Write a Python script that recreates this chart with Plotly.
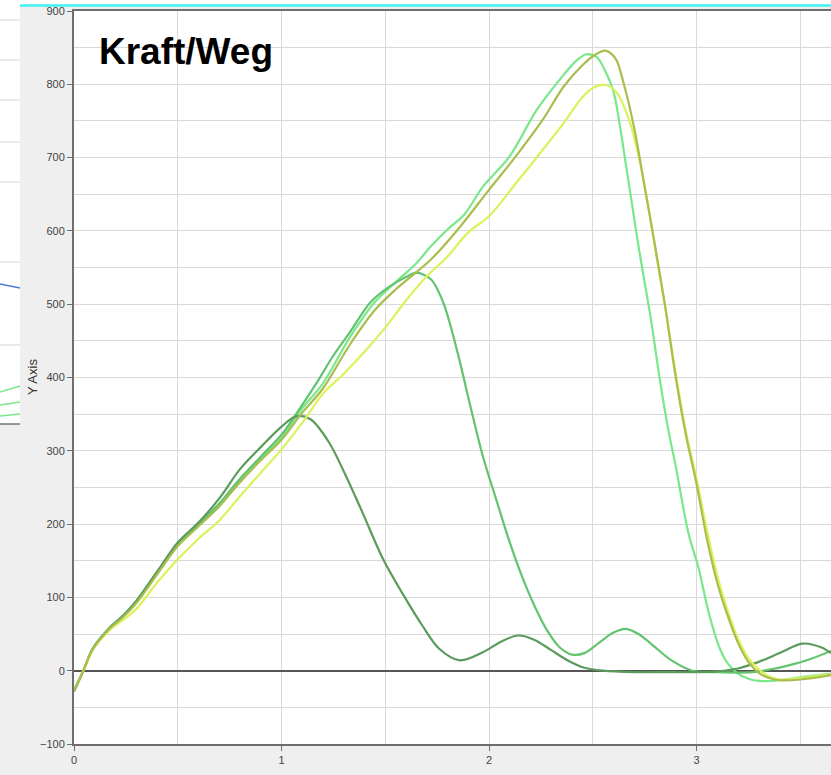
import plotly.graph_objects as go

# Kraft/Weg curves (Weg on x, Kraft on y), five specimens
weg_1 = [0, 0.045, 0.09, 0.17, 0.24, 0.30, 0.40, 0.50, 0.60, 0.70, 0.80, 0.90, 1.00, 1.07, 1.14, 1.23,
         1.31, 1.39, 1.49, 1.59, 1.68, 1.76, 1.86, 1.97, 2.06, 2.14, 2.22, 2.30, 2.38, 2.46, 2.55, 2.70,
         2.85, 3.00, 3.10, 3.20, 3.30, 3.40, 3.51, 3.60, 3.648]
kraft_1 = [-28, 0, 30, 58, 76, 95, 135, 175, 202, 235, 275, 305, 333, 347, 343, 311,
           266, 216, 152, 102, 61, 30, 14, 25, 40, 48, 42, 28, 14, 4, 0, -2,
           -2, -2, -1, 3, 12, 24, 37, 32, 24]

weg_2 = [0, 0.045, 0.09, 0.17, 0.24, 0.30, 0.40, 0.50, 0.60, 0.70, 0.80, 0.90, 1.00, 1.07, 1.17, 1.25,
         1.33, 1.43, 1.52, 1.60, 1.65, 1.72, 1.78, 1.845, 1.91, 1.97, 2.04, 2.10, 2.16, 2.22, 2.28, 2.34,
         2.40, 2.46, 2.53, 2.60, 2.66, 2.72, 2.78, 2.88, 2.98, 3.10, 3.27, 3.36, 3.44, 3.55, 3.648]
kraft_2 = [-28, 0, 30, 58, 76, 95, 134, 174, 200, 228, 262, 292, 322, 350, 393, 430,
           462, 503, 524, 537, 543, 534, 502, 438, 361, 293, 229, 175, 128, 88, 55, 32,
           22, 24, 38, 52, 57, 50, 37, 14, 0, -2, -2, 2, 7, 16, 27]

weg_3 = [0, 0.045, 0.09, 0.17, 0.24, 0.30, 0.40, 0.50, 0.60, 0.70, 0.80, 0.90, 1.00, 1.10, 1.20, 1.33,
         1.45, 1.55, 1.65, 1.72, 1.80, 1.88, 1.97, 2.10, 2.23, 2.34, 2.42, 2.47, 2.52, 2.56, 2.60, 2.63,
         2.66, 2.69, 2.72, 2.75, 2.78, 2.83, 2.87, 2.90, 2.96, 3.01, 3.06, 3.11, 3.15, 3.20, 3.25, 3.30,
         3.40, 3.50, 3.648]
kraft_3 = [-27, 0, 30, 58, 75, 94, 133, 172, 199, 226, 260, 290, 318, 358, 392, 455,
           503, 530, 556, 579, 602, 622, 660, 702, 765, 806, 832, 841, 837, 818, 790, 745,
           690, 635, 580, 530, 480, 385, 320, 279, 189, 140, 78, 32, 10, -4, -11, -14,
           -13, -9, -4]

weg_4 = [0, 0.045, 0.09, 0.17, 0.24, 0.30, 0.40, 0.50, 0.60, 0.70, 0.80, 0.90, 1.00, 1.10, 1.20, 1.33,
         1.45, 1.55, 1.72, 1.85, 2.00, 2.13, 2.26, 2.36, 2.45, 2.51, 2.56, 2.61, 2.65, 2.70, 2.75, 2.80,
         2.85, 2.90, 2.95, 3.00, 3.05, 3.10, 3.15, 3.20, 3.25, 3.30, 3.35, 3.40, 3.50, 3.648]
kraft_4 = [-27, 0, 29, 57, 74, 92, 131, 170, 197, 224, 257, 287, 315, 352, 385, 445,
           492, 520, 561, 602, 656, 702, 752, 797, 826, 840, 846, 835, 800, 740, 660, 580,
           495, 400, 320, 255, 180, 120, 75, 38, 12, -3, -10, -13, -12, -6]

weg_5 = [0, 0.045, 0.09, 0.17, 0.24, 0.30, 0.40, 0.50, 0.60, 0.70, 0.80, 0.90, 1.00, 1.10, 1.20, 1.30,
         1.40, 1.50, 1.60, 1.70, 1.80, 1.90, 2.00, 2.13, 2.26, 2.36, 2.44, 2.50, 2.56, 2.615, 2.68, 2.73,
         2.77, 2.81, 2.85, 2.90, 2.95, 3.00, 3.05, 3.10, 3.15, 3.20, 3.25, 3.30, 3.35, 3.40, 3.50, 3.648]
kraft_5 = [-26, 0, 28, 55, 70, 84, 120, 152, 180, 205, 238, 270, 302, 338, 378, 405,
           435, 468, 505, 538, 565, 598, 620, 665, 711, 747, 779, 795, 799, 789, 747, 690,
           630, 560, 495, 405, 325, 262, 192, 130, 82, 44, 17, 2, -8, -12, -10, -5]

series = [
    (weg_3, kraft_3, "#7ae88a"),
    (weg_2, kraft_2, "#62c46e"),
    (weg_1, kraft_1, "#5b9b5b"),
    (weg_5, kraft_5, "#dcf25a"),
    (weg_4, kraft_4, "#aabd4e"),
]

y_ticks = [-100, 0, 100, 200, 300, 400, 500, 600, 700, 800, 900]
x_ticks = [0, 1, 2, 3]

W, H = 831, 775
ML, MR, MT, MB = 74, 0, 11, 31


def px_x(px):
    return (px - ML) / (W - ML - MR)


def px_y(py):
    return (H - MB - py) / (H - MT - MB)


fig = go.Figure()
for xs, ys, col in series:
    fig.add_trace(go.Scatter(x=xs, y=ys, mode="lines",
                             line=dict(color=col, width=2.2, shape="spline", smoothing=0.9),
                             hoverinfo="skip"))

font_family = "Liberation Sans, Arial, sans-serif"
axis_common = dict(
    showline=True, linecolor="#6e6e6e", linewidth=2,
    ticks="outside", ticklen=5, tickcolor="#6e6e6e", tickwidth=1,
    tickfont=dict(family=font_family, size=11, color="#444"),
    showgrid=True, gridcolor="#d9d9d9", gridwidth=1,
)

fig.update_xaxes(range=[0, (W - ML - MR) / 207.5], tickvals=x_ticks, mirror=True,
                 minor=dict(dtick=0.5, tick0=0, showgrid=True, gridcolor="#d9d9d9", ticks=""),
                 zeroline=False, **axis_common)
fig.update_yaxes(range=[-100, 900], tickvals=y_ticks,
                 minor=dict(dtick=50, tick0=0, showgrid=True, gridcolor="#d9d9d9", ticks=""),
                 zeroline=True, zerolinecolor="#555", zerolinewidth=1.5, **axis_common)

shapes = [
    # white strip along the top edge and the cyan rule under it
    dict(type="rect", xref="paper", yref="paper", x0=px_x(0), x1=px_x(W), y0=px_y(4.5), y1=px_y(0),
         fillcolor="white", line_width=0, layer="above"),
    dict(type="line", xref="paper", yref="paper", x0=px_x(20), x1=px_x(W), y0=px_y(5.5), y1=px_y(5.5),
         line=dict(color="#40f2f2", width=2.5), layer="above"),
    # white strip at the left edge
    dict(type="rect", xref="paper", yref="paper", x0=px_x(0), x1=px_x(20), y0=px_y(424), y1=px_y(0),
         fillcolor="white", line_width=0),
    dict(type="line", xref="paper", yref="paper", x0=px_x(0), x1=px_x(20), y0=px_y(424), y1=px_y(424),
         line=dict(color="#777", width=1.5)),
    dict(type="line", xref="paper", yref="paper", x0=px_x(0), x1=px_x(20), y0=px_y(284), y1=px_y(288),
         line=dict(color="#4a78d8", width=1.5)),
]
for gy in [20, 60, 100, 142, 182, 262, 345]:
    shapes.append(dict(type="line", xref="paper", yref="paper", x0=px_x(0), x1=px_x(20),
                       y0=px_y(gy), y1=px_y(gy), line=dict(color="#d4d4d4", width=1)))
for gy0, gy1 in [(392, 386), (405, 402), (416, 414)]:
    shapes.append(dict(type="line", xref="paper", yref="paper", x0=px_x(0), x1=px_x(20),
                       y0=px_y(gy0), y1=px_y(gy1), line=dict(color="#7ae88a", width=1.5)))

fig.update_layout(
    width=W, height=H,
    margin=dict(l=ML, r=MR, t=MT, b=MB, pad=0),
    paper_bgcolor="#efefef", plot_bgcolor="white",
    showlegend=False,
    shapes=shapes,
    annotations=[
        dict(text="<b>Kraft/Weg</b>", xref="paper", yref="paper", x=px_x(97), y=px_y(52),
             xanchor="left", yanchor="middle", showarrow=False,
             font=dict(family=font_family, size=37, color="black")),
        dict(text="Y Axis", xref="paper", yref="paper", x=px_x(32), y=px_y(377),
             xanchor="center", yanchor="middle", textangle=-90, showarrow=False,
             font=dict(family=font_family, size=13, color="#333")),
    ],
)

fig.write_html("out.html")
